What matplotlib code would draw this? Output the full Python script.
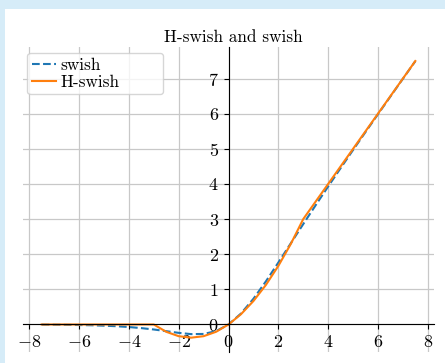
import numpy as np
import matplotlib
matplotlib.use('Agg')
import matplotlib.pyplot as plt
from matplotlib.patches import Rectangle

x_vals = [-7.5, -7.0, -6.5, -6.0, -5.5, -5.0, -4.5, -4.0, -3.5, -3.0, -2.5, -2.0, -1.5, -1.0, -0.5,
          0.0, 0.5, 1.0, 1.5, 2.0, 2.5, 3.0, 3.5, 4.0, 4.5, 5.0, 5.5, 6.0, 6.5, 7.0, 7.5]
swish_vals = [-0.004, -0.006, -0.010, -0.015, -0.022, -0.034, -0.049, -0.072, -0.103, -0.142, -0.190,
              -0.238, -0.274, -0.269, -0.189, 0.0, 0.311, 0.731, 1.226, 1.762, 2.310, 2.858, 3.397,
              3.928, 4.451, 4.967, 5.478, 5.985, 6.490, 6.994, 7.496]
hswish_vals = [0.0, 0.0, 0.0, 0.0, 0.0, 0.0, 0.0, 0.0, 0.0, 0.0, -0.208, -0.333, -0.375, -0.333, -0.208,
               0.0, 0.292, 0.667, 1.125, 1.667, 2.292, 3.0, 3.5, 4.0, 4.5, 5.0, 5.5, 6.0, 6.5, 7.0, 7.5]
x_ticks = [-8, -6, -4, -2, 0, 2, 4, 6, 8]
y_ticks = [0, 1, 2, 3, 4, 5, 6, 7]

plt.rcParams['font.family'] = 'serif'
plt.rcParams['font.serif'] = ['cmr10']
plt.rcParams['mathtext.fontset'] = 'cm'
plt.rcParams['axes.formatter.use_mathtext'] = True

fig = plt.figure(figsize=(4.45, 3.63), dpi=100, facecolor='#d6ecf8')
# white card on the light blue page
fig.patches.append(Rectangle((5 / 445, 0), 1, 1 - 9 / 363, transform=fig.transFigure,
                             facecolor='white', edgecolor='none', zorder=-5))

ax = fig.add_axes([23 / 445, 11.5 / 363, 411 / 445, 304.3 / 363])
ax.set_zorder(1)
ax.set_facecolor('white')
ax.plot(x_vals, swish_vals, '--', color='#1f77b4', lw=1.5, label='swish')
ax.plot(x_vals, hswish_vals, '-', color='#ff7f0e', lw=1.5, label='H-swish')

ax.spines['left'].set_position(('data', 0))
ax.spines['bottom'].set_position(('data', 0))
ax.spines['top'].set_visible(False)
ax.spines['right'].set_visible(False)
ax.set_xticks(x_ticks)
ax.set_yticks(y_ticks)
ax.tick_params(labelsize=13)
ax.grid(True, color='#c8c8c8', lw=0.9)
ax.set_title('H-swish and swish', fontsize=12.4, x=0.512, pad=4)
ax.legend(loc='upper left', bbox_to_anchor=(0.0105, 0, 0.331, 0.981), mode='expand',
          borderaxespad=0, fontsize=12.4, handlelength=1.4, handletextpad=0.25,
          borderpad=0.25, labelspacing=0.1)

plt.savefig('out.png', dpi=100, facecolor=fig.get_facecolor())
